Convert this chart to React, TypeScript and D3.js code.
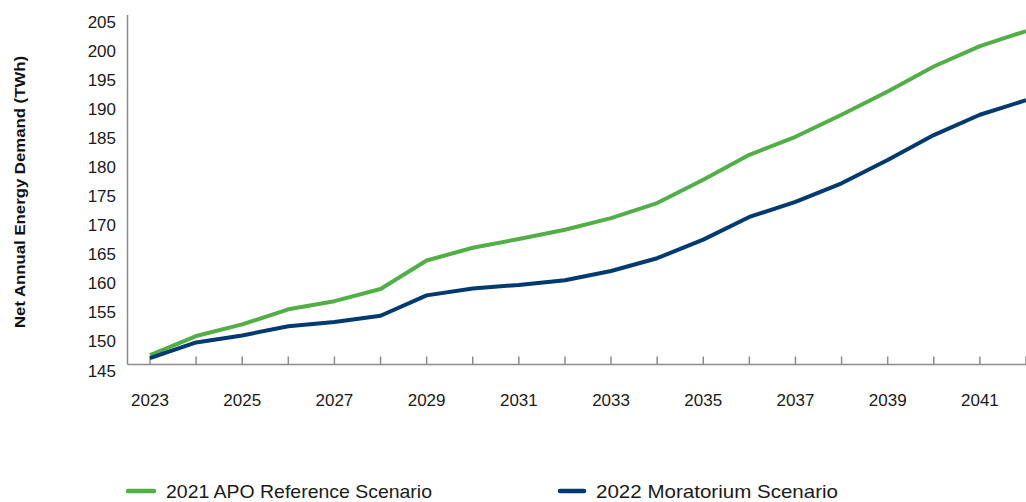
import React from "react";
import * as d3 from "d3";

const years = [2023, 2024, 2025, 2026, 2027, 2028, 2029, 2030, 2031, 2032, 2033, 2034, 2035, 2036, 2037, 2038, 2039, 2040, 2041, 2042];
const apoReference = [146.6, 149.9, 151.9, 154.5, 155.9, 158.0, 162.9, 165.1, 166.6, 168.2, 170.2, 172.8, 176.8, 181.1, 184.2, 188.0, 192.0, 196.3, 199.8, 202.4];
const moratorium = [146.1, 148.8, 150.0, 151.6, 152.3, 153.4, 156.9, 158.1, 158.7, 159.5, 161.1, 163.3, 166.5, 170.4, 173.0, 176.2, 180.2, 184.5, 188.0, 190.5];
const yTicks = [145, 150, 155, 160, 165, 170, 175, 180, 185, 190, 195, 200, 205];
const xLabelYears = [2023, 2025, 2027, 2029, 2031, 2033, 2035, 2037, 2039, 2041];
const seriesNames = ["2021 APO Reference Scenario", "2022 Moratorium Scenario"];

const GREEN = "#52AE47";
const NAVY = "#003A70";
const AXIS = "#8C8C8C";
const FONT = "'Liberation Sans', Arial, sans-serif";

export default function App() {
  const W = 1026, H = 502;
  const x = d3.scaleLinear().domain([2023, 2042]).range([150, 1026]);
  const y = d3.scaleLinear().domain([145, 205]).range([364.5, 16]);
  const line = d3.line<number>().x((_, i) => x(years[i])).y((d) => y(d));
  const axisX0 = 127.5;

  return (
    <svg width={W} height={H} style={{ position: "absolute", left: 0, top: 0, background: "#fff" }}>
      {/* y axis */}
      <line x1={axisX0} x2={axisX0} y1={15} y2={y(145)} stroke={AXIS} strokeWidth={1.5} />
      {/* x axis */}
      <line x1={axisX0} x2={W} y1={y(145)} y2={y(145)} stroke={AXIS} strokeWidth={1.5} />
      {years.map((yr) => (
        <line key={yr} x1={x(yr)} x2={x(yr)} y1={y(145)} y2={y(145) - 8} stroke={AXIS} strokeWidth={1.5} />
      ))}
      {yTicks.map((t) => (
        <text key={t} x={116} y={y(t) + 12} textAnchor="end" fontFamily={FONT} fontSize={17} fill="#1a1a1a">
          {t}
        </text>
      ))}
      {xLabelYears.map((yr) => (
        <text key={yr} x={x(yr)} y={406} textAnchor="middle" fontFamily={FONT} fontSize={17} fill="#1a1a1a">
          {yr}
        </text>
      ))}
      <text
        transform={`translate(25,192) rotate(-90)`}
        textAnchor="middle"
        fontFamily={FONT}
        fontSize={15.5}
        fontWeight="bold"
        fill="#111"
        textLength={272}
        lengthAdjust="spacingAndGlyphs"
      >
        Net Annual Energy Demand (TWh)
      </text>
      <path d={line(apoReference) || ""} fill="none" stroke={GREEN} strokeWidth={4} strokeLinejoin="round" />
      <path d={line(moratorium) || ""} fill="none" stroke={NAVY} strokeWidth={4} strokeLinejoin="round" />
      {/* legend */}
      <line x1={128} x2={154} y1={491} y2={491} stroke={GREEN} strokeWidth={4.5} strokeLinecap="round" />
      <text x={166} y={498} fontFamily={FONT} fontSize={19} fill="#1a1a1a" textLength={266} lengthAdjust="spacingAndGlyphs">
        {seriesNames[0]}
      </text>
      <line x1={560} x2={584} y1={491} y2={491} stroke={NAVY} strokeWidth={4.5} strokeLinecap="round" />
      <text x={596} y={498} fontFamily={FONT} fontSize={19} fill="#1a1a1a" textLength={242} lengthAdjust="spacingAndGlyphs">
        {seriesNames[1]}
      </text>
    </svg>
  );
}
